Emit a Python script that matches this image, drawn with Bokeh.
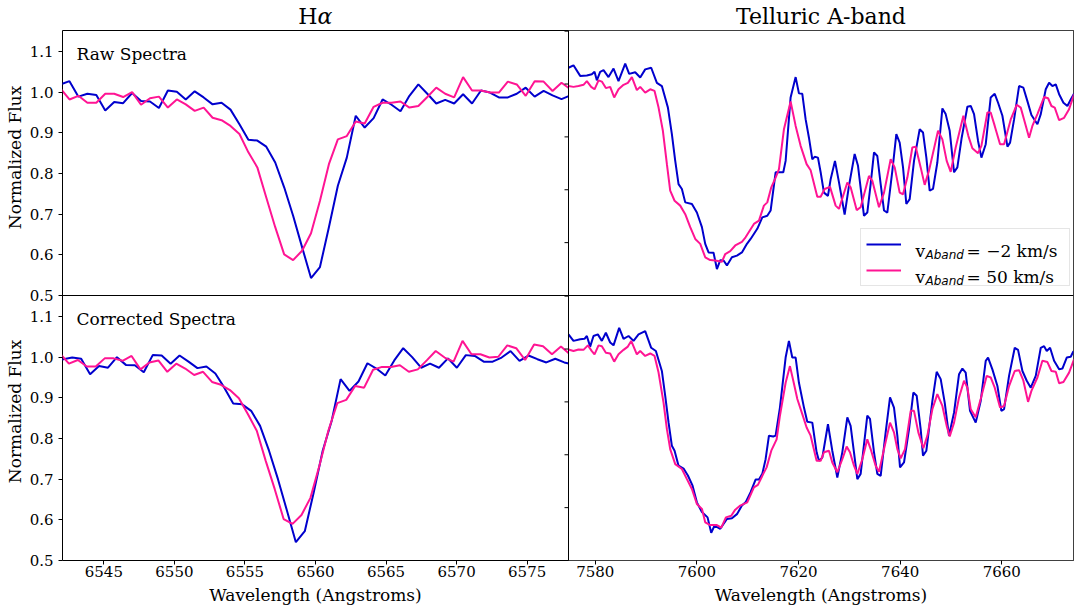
import numpy as np
from math import pi
from bokeh.plotting import figure
from bokeh.layouts import column, row
from bokeh.models import (Range1d, LinearAxis, FixedTicker, Label, Span,
                          Legend, LegendItem)
from bokeh.embed import file_html
from bokeh.resources import INLINE

BLUE = "#0000cd"
PINK = "#ff1493"
SERIF = "DejaVu Serif"

# ---------------- data ----------------
# H-alpha: uniform wavelength sampling (start, step) and fluxes
ha_step = 0.634
ha_raw_start = 6541.93
ha_raw_blue = [1.019, 1.027, 0.989, 0.996, 0.993, 0.955, 0.976, 0.973, 0.998, 0.978,
               0.977, 0.961, 1.004, 1.001, 0.982, 1.002, 0.987, 0.970, 0.974, 0.957,
               0.921, 0.883, 0.881, 0.866, 0.827, 0.766, 0.696, 0.619, 0.543, 0.570,
               0.668, 0.770, 0.839, 0.942, 0.913, 0.936, 0.982, 0.969, 0.953, 0.991,
               1.019, 0.996, 0.972, 0.981, 0.972, 0.995, 0.972, 1.004, 0.999, 0.987,
               0.987, 0.996, 1.011, 0.989, 1.003, 0.992, 0.983, 0.992]
ha_raw_pink = [1.009, 0.982, 0.991, 0.974, 0.974, 0.996, 0.996, 0.988, 1.000, 0.969,
               0.985, 0.989, 0.962, 0.982, 0.970, 0.954, 0.962, 0.937, 0.931, 0.917,
               0.897, 0.852, 0.815, 0.741, 0.668, 0.601, 0.587, 0.610, 0.653, 0.733,
               0.823, 0.884, 0.892, 0.928, 0.923, 0.964, 0.974, 0.974, 0.977, 0.962,
               0.966, 0.988, 1.011, 0.996, 0.987, 1.037, 1.004, 1.004, 0.999, 0.999,
               1.026, 1.019, 0.991, 1.027, 1.026, 1.003, 1.023, 1.007]
ha_cor_blue_start = 6541.49
ha_cor_blue = [0.987, 0.995, 0.999, 0.996, 0.958, 0.978, 0.974, 1.000, 0.981, 0.980,
               0.963, 1.005, 1.004, 0.984, 1.004, 0.989, 0.973, 0.977, 0.960, 0.925,
               0.886, 0.884, 0.868, 0.831, 0.770, 0.700, 0.623, 0.545, 0.572, 0.668,
               0.770, 0.843, 0.946, 0.917, 0.940, 0.985, 0.972, 0.955, 0.992, 1.022,
               1.000, 0.974, 0.984, 0.974, 0.997, 0.974, 1.005, 1.003, 0.989, 0.989,
               0.999, 1.015, 0.991, 1.004, 0.995, 0.987, 0.996, 0.987, 0.982]
ha_cor_pink_start = 6541.89
ha_cor_pink = [1.009, 0.984, 0.993, 0.977, 0.977, 0.997, 0.997, 0.991, 1.003, 0.970,
               0.987, 0.992, 0.964, 0.984, 0.972, 0.956, 0.964, 0.939, 0.932, 0.919,
               0.899, 0.860, 0.819, 0.745, 0.676, 0.602, 0.590, 0.612, 0.654, 0.733,
               0.819, 0.887, 0.895, 0.929, 0.925, 0.969, 0.976, 0.976, 0.980, 0.964,
               0.970, 0.992, 1.015, 0.999, 0.989, 1.040, 1.007, 1.007, 0.999, 1.001,
               1.029, 1.022, 0.993, 1.031, 1.027, 1.007, 1.026, 1.007]

# Telluric A-band: (wavelength, flux) vertices
ab_raw_blue = [
    (7574.74, 1.060), (7575.72, 1.066), (7577.04, 1.040), (7578.35, 1.041), (7579.33, 1.044),
    (7579.86, 1.050), (7580.32, 1.029), (7580.97, 1.050), (7581.63, 1.054), (7582.61, 1.037),
    (7583.60, 1.058), (7584.58, 1.027), (7585.90, 1.070), (7586.68, 1.045), (7587.86, 1.049),
    (7588.85, 1.036), (7589.83, 1.056), (7591.01, 1.060), (7592.13, 1.023), (7593.11, 1.015),
    (7594.30, 0.962), (7595.08, 0.897), (7595.74, 0.831), (7596.39, 0.774), (7597.05, 0.762),
    (7597.71, 0.729), (7599.02, 0.725), (7600.00, 0.704), (7600.99, 0.668), (7601.64, 0.627),
    (7602.30, 0.606), (7603.28, 0.605), (7603.94, 0.565), (7604.60, 0.587), (7605.25, 0.586),
    (7605.91, 0.574), (7606.89, 0.594), (7607.88, 0.598), (7608.86, 0.606), (7609.85, 0.627),
    (7610.57, 0.639), (7611.88, 0.664), (7612.87, 0.692), (7613.85, 0.696), (7614.51, 0.709),
    (7615.49, 0.803), (7617.00, 0.803), (7617.46, 0.831), (7618.44, 0.987), (7619.43, 1.037),
    (7620.08, 0.997), (7620.74, 0.996), (7621.40, 0.933), (7622.05, 0.888), (7622.71, 0.835),
    (7623.17, 0.841), (7623.82, 0.839), (7624.35, 0.803), (7625.00, 0.753), (7625.79, 0.745),
    (7626.32, 0.786), (7627.17, 0.831), (7627.96, 0.778), (7629.07, 0.699), (7629.93, 0.770),
    (7631.04, 0.848), (7631.70, 0.819), (7632.88, 0.696), (7633.53, 0.704), (7634.19, 0.774),
    (7634.85, 0.852), (7635.50, 0.843), (7636.16, 0.774), (7636.82, 0.709), (7637.47, 0.704),
    (7638.46, 0.807), (7639.24, 0.897), (7639.90, 0.876), (7640.56, 0.815), (7641.21, 0.725),
    (7641.87, 0.737), (7642.72, 0.831), (7643.84, 0.909), (7644.49, 0.901), (7645.15, 0.839),
    (7645.80, 0.758), (7646.46, 0.762), (7647.31, 0.827), (7648.30, 0.960), (7648.95, 0.946),
    (7649.74, 0.905), (7650.60, 0.803), (7651.25, 0.815), (7652.10, 0.888), (7653.22, 0.964),
    (7653.88, 0.966), (7654.53, 0.946), (7655.32, 0.880), (7655.98, 0.839), (7656.83, 0.872),
    (7657.81, 0.987), (7658.60, 0.996), (7659.26, 0.974), (7660.11, 0.942), (7661.10, 0.866),
    (7661.62, 0.876), (7662.41, 0.933), (7663.39, 1.015), (7664.24, 1.011), (7665.03, 0.978),
    (7665.82, 0.944), (7667.00, 0.921), (7667.66, 0.946), (7668.64, 1.007), (7669.30, 1.023),
    (7669.95, 1.015), (7670.61, 1.019), (7671.27, 0.995), (7672.12, 0.974), (7672.90, 0.966),
    (7673.56, 0.982), (7674.22, 0.997)]
ab_raw_pink = [
    (7574.74, 1.015), (7575.72, 1.013), (7576.71, 1.015), (7577.69, 1.018), (7578.35, 1.027),
    (7579.20, 1.013), (7579.86, 1.007), (7580.65, 1.029), (7581.30, 1.026), (7582.09, 1.010),
    (7582.94, 1.013), (7583.73, 0.987), (7584.58, 1.007), (7585.57, 1.018), (7586.42, 1.023),
    (7587.21, 1.037), (7588.19, 1.005), (7588.85, 1.013), (7589.83, 0.999), (7590.82, 1.007),
    (7591.67, 1.003), (7592.46, 0.962), (7593.31, 0.905), (7594.10, 0.823), (7594.75, 0.758),
    (7595.61, 0.733), (7596.72, 0.721), (7597.71, 0.700), (7598.69, 0.668), (7599.68, 0.639),
    (7600.66, 0.627), (7601.64, 0.594), (7602.63, 0.587), (7603.61, 0.586), (7604.92, 0.583),
    (7605.58, 0.602), (7606.56, 0.609), (7607.55, 0.623), (7608.86, 0.632), (7609.58, 0.643),
    (7611.22, 0.676), (7612.21, 0.684), (7613.19, 0.721), (7613.85, 0.729), (7614.64, 0.766),
    (7615.49, 0.790), (7616.15, 0.811), (7617.13, 0.909), (7618.44, 0.977), (7619.43, 0.917),
    (7620.41, 0.868), (7621.59, 0.823), (7622.38, 0.808), (7623.69, 0.743), (7624.35, 0.743),
    (7625.14, 0.762), (7626.19, 0.767), (7627.30, 0.721), (7627.96, 0.713), (7629.60, 0.778),
    (7630.25, 0.766), (7631.44, 0.710), (7632.22, 0.717), (7633.86, 0.794), (7634.52, 0.782),
    (7635.83, 0.717), (7636.82, 0.753), (7638.13, 0.835), (7638.92, 0.815), (7639.90, 0.753),
    (7640.56, 0.749), (7641.41, 0.790), (7642.39, 0.864), (7643.05, 0.866), (7644.03, 0.815),
    (7644.82, 0.772), (7645.67, 0.807), (7647.45, 0.905), (7648.30, 0.884), (7649.15, 0.831),
    (7649.94, 0.804), (7650.92, 0.864), (7652.43, 0.942), (7653.42, 0.892), (7654.20, 0.862),
    (7655.32, 0.850), (7655.98, 0.868), (7657.16, 0.950), (7657.81, 0.950), (7658.60, 0.917),
    (7659.65, 0.872), (7660.44, 0.872), (7661.75, 0.933), (7662.93, 0.969), (7663.72, 0.962),
    (7664.37, 0.933), (7665.36, 0.888), (7666.01, 0.917), (7667.00, 0.946), (7668.31, 0.988),
    (7669.10, 0.985), (7669.76, 0.966), (7670.41, 0.962), (7671.27, 0.931), (7672.25, 0.937),
    (7673.23, 0.958), (7674.22, 0.995)]
ab_cor_blue = [
    (7574.74, 1.056), (7575.72, 1.040), (7577.04, 1.044), (7577.89, 1.045), (7578.35, 1.052),
    (7579.00, 1.026), (7579.66, 1.052), (7580.51, 1.056), (7581.30, 1.040), (7582.09, 1.060),
    (7582.94, 1.036), (7583.60, 1.029), (7584.71, 1.072), (7585.57, 1.045), (7586.55, 1.052),
    (7587.54, 1.040), (7588.52, 1.056), (7589.83, 1.064), (7591.01, 1.023), (7591.93, 1.015),
    (7593.11, 0.966), (7593.77, 0.905), (7594.43, 0.839), (7595.08, 0.782), (7595.61, 0.770),
    (7596.39, 0.733), (7597.38, 0.726), (7598.23, 0.709), (7599.15, 0.684), (7600.00, 0.643),
    (7600.99, 0.619), (7602.10, 0.606), (7602.82, 0.568), (7603.48, 0.586), (7604.60, 0.578),
    (7605.91, 0.602), (7606.89, 0.604), (7607.88, 0.614), (7608.86, 0.635), (7609.58, 0.643),
    (7610.57, 0.668), (7611.55, 0.699), (7612.21, 0.699), (7612.87, 0.713), (7613.52, 0.749),
    (7614.18, 0.807), (7615.03, 0.805), (7615.49, 0.807), (7616.34, 0.876), (7617.46, 0.999),
    (7618.11, 1.040), (7618.77, 0.999), (7619.43, 0.999), (7620.08, 0.937), (7621.07, 0.876),
    (7621.72, 0.841), (7622.71, 0.839), (7623.56, 0.766), (7624.02, 0.745), (7624.68, 0.753),
    (7625.79, 0.835), (7626.64, 0.770), (7627.63, 0.704), (7628.61, 0.766), (7629.60, 0.852),
    (7630.25, 0.831), (7630.91, 0.766), (7631.57, 0.700), (7632.22, 0.713), (7633.53, 0.856),
    (7634.06, 0.848), (7634.85, 0.766), (7635.50, 0.713), (7636.16, 0.708), (7637.14, 0.815),
    (7638.00, 0.901), (7638.78, 0.876), (7639.44, 0.807), (7639.97, 0.729), (7640.75, 0.741),
    (7641.74, 0.823), (7642.59, 0.913), (7643.25, 0.905), (7644.03, 0.823), (7644.49, 0.758),
    (7645.15, 0.770), (7646.33, 0.892), (7647.18, 0.964), (7647.97, 0.946), (7648.76, 0.888),
    (7649.60, 0.807), (7650.60, 0.864), (7651.58, 0.958), (7652.24, 0.972), (7652.89, 0.962),
    (7653.74, 0.868), (7654.86, 0.839), (7655.84, 0.892), (7656.83, 0.991), (7657.29, 0.999),
    (7658.14, 0.970), (7659.13, 0.929), (7659.91, 0.868), (7660.44, 0.872), (7661.42, 0.954),
    (7662.54, 1.023), (7663.19, 1.018), (7664.05, 0.966), (7664.90, 0.942), (7665.69, 0.925),
    (7666.67, 0.954), (7667.66, 1.023), (7668.31, 1.027), (7668.84, 1.015), (7669.49, 1.023),
    (7670.28, 0.991), (7671.27, 0.970), (7671.92, 0.972), (7672.77, 0.999), (7673.56, 1.001),
    (7674.09, 1.015)]
ab_cor_pink = [
    (7574.74, 1.019), (7575.72, 1.015), (7576.71, 1.019), (7577.69, 1.018), (7578.55, 1.029),
    (7579.33, 1.015), (7579.86, 1.007), (7580.65, 1.029), (7581.30, 1.027), (7582.09, 1.011),
    (7582.94, 1.009), (7583.73, 0.989), (7584.58, 1.007), (7585.57, 1.018), (7586.42, 1.026),
    (7587.08, 1.040), (7588.19, 1.007), (7588.85, 1.015), (7589.83, 1.003), (7590.82, 1.009),
    (7591.67, 1.003), (7592.46, 0.962), (7593.44, 0.888), (7594.10, 0.823), (7594.75, 0.774),
    (7595.74, 0.737), (7597.05, 0.725), (7598.04, 0.700), (7599.02, 0.676), (7600.00, 0.639),
    (7600.99, 0.627), (7601.64, 0.594), (7602.63, 0.587), (7603.94, 0.587), (7604.80, 0.581),
    (7605.71, 0.606), (7606.76, 0.610), (7607.55, 0.625), (7608.53, 0.635), (7609.91, 0.643),
    (7611.22, 0.680), (7612.01, 0.686), (7613.06, 0.713), (7613.72, 0.729), (7614.64, 0.770),
    (7615.69, 0.798), (7616.34, 0.856), (7617.46, 0.937), (7618.31, 0.978), (7618.97, 0.942),
    (7619.76, 0.897), (7620.74, 0.860), (7621.59, 0.827), (7622.38, 0.807), (7623.56, 0.745),
    (7624.35, 0.745), (7625.00, 0.766), (7625.99, 0.770), (7626.64, 0.741), (7627.63, 0.717),
    (7628.61, 0.749), (7629.47, 0.780), (7630.12, 0.766), (7630.91, 0.733), (7631.57, 0.713),
    (7632.55, 0.749), (7633.53, 0.798), (7634.19, 0.774), (7635.17, 0.733), (7635.83, 0.718),
    (7636.82, 0.774), (7638.00, 0.839), (7638.78, 0.815), (7639.44, 0.774), (7640.10, 0.751),
    (7640.95, 0.774), (7642.07, 0.868), (7642.72, 0.868), (7643.57, 0.815), (7644.56, 0.776),
    (7645.35, 0.807), (7646.33, 0.872), (7647.31, 0.909), (7648.30, 0.880), (7649.15, 0.831),
    (7649.74, 0.805), (7650.60, 0.839), (7651.58, 0.901), (7652.56, 0.942), (7653.22, 0.925),
    (7653.88, 0.872), (7654.86, 0.852), (7655.84, 0.897), (7657.03, 0.954), (7657.81, 0.950),
    (7658.60, 0.925), (7659.65, 0.876), (7660.44, 0.880), (7661.42, 0.929), (7662.54, 0.966),
    (7663.39, 0.968), (7664.24, 0.942), (7665.16, 0.890), (7665.82, 0.917), (7667.00, 0.950),
    (7667.98, 0.991), (7668.97, 0.988), (7669.76, 0.966), (7670.61, 0.964), (7671.27, 0.936),
    (7672.12, 0.939), (7673.23, 0.962), (7674.22, 0.995)]

ha_ticks = [6545, 6550, 6555, 6560, 6565, 6570, 6575]
ab_ticks = [7580, 7600, 7620, 7640, 7660]
y_ticks = [0.5, 0.6, 0.7, 0.8, 0.9, 1.0, 1.1]
ab_y_ticks = [0.5, 0.63, 0.76, 0.89, 1.02, 1.15]   # unlabeled ticks of the A-band panels

legend_labels = [("v", "Aband", "= \u22122 km/s"), ("v", "Aband", "= 50 km/s")]

# ---------------- layout ----------------
TOTAL_W, TOTAL_H = 1074, 607
HEAD_H = 30          # title strip
YLAB_W = 24          # strip with the rotated y labels
LEFT_B = 38          # main figure left border (tick labels)
BOT_B = 23           # main figure bottom border (tick labels)
W_L, W_R = 506, 505  # panel widths
H_T = 265            # panel height
FRAME_W = W_L + W_R
FRAME_H = 2 * H_T
MAIN_W = LEFT_B + FRAME_W + 1
MAIN_H = FRAME_H + BOT_B
FOOT_H = TOTAL_H - HEAD_H - MAIN_H

HA_LIM = (6542.07, 6577.93)
AB_LIM = (7574.74, 7674.10)
Y_LIM = (0.5, 1.1516)

ha_span = (HA_LIM[1] - HA_LIM[0]) * FRAME_W / W_L
ab_span = (AB_LIM[1] - AB_LIM[0]) * FRAME_W / W_R
y_span = (Y_LIM[1] - Y_LIM[0]) * FRAME_H / H_T
x_ha = Range1d(HA_LIM[0], HA_LIM[0] + ha_span)
x_ab = Range1d(AB_LIM[1] - ab_span, AB_LIM[1])
y_top = Range1d(Y_LIM[1] - y_span, Y_LIM[1])
y_bot = Range1d(Y_LIM[0], Y_LIM[0] + y_span)

p = figure(width=MAIN_W, height=MAIN_H, x_range=x_ha, y_range=y_top,
           output_backend="svg", toolbar_location=None,
           x_axis_type=None, y_axis_type=None,
           min_border_left=LEFT_B, min_border_right=1, min_border_top=0,
           min_border_bottom=BOT_B)
p.extra_x_ranges = {"ab": x_ab}
p.extra_y_ranges = {"bot": y_bot}
p.outline_line_color = "black"
p.outline_line_width = 1
p.background_fill_color = "white"
p.border_fill_color = "white"


def grid(start, n):
    return [round(start + ha_step * i, 3) for i in range(n)]


LW = 2
p.line(grid(ha_raw_start, len(ha_raw_blue)), ha_raw_blue, color=BLUE, line_width=LW)
p.line(grid(ha_raw_start, len(ha_raw_pink)), ha_raw_pink, color=PINK, line_width=LW)
p.line(grid(ha_cor_blue_start, len(ha_cor_blue)), ha_cor_blue, color=BLUE, line_width=LW,
       y_range_name="bot")
p.line(grid(ha_cor_pink_start, len(ha_cor_pink)), ha_cor_pink, color=PINK, line_width=LW,
       y_range_name="bot")

# white mask so that H-alpha lines end at the column boundary
p.quad(left=[HA_LIM[1]], right=[x_ha.end], bottom=[y_top.start], top=[y_top.end],
       fill_color="white", line_color=None)

r_blue = p.line([w for w, f in ab_raw_blue], [f for w, f in ab_raw_blue], color=BLUE,
                line_width=LW, x_range_name="ab")
r_pink = p.line([w for w, f in ab_raw_pink], [f for w, f in ab_raw_pink], color=PINK,
                line_width=LW, x_range_name="ab")
p.line([w for w, f in ab_cor_blue], [f for w, f in ab_cor_blue], color=BLUE,
       line_width=LW, x_range_name="ab", y_range_name="bot")
p.line([w for w, f in ab_cor_pink], [f for w, f in ab_cor_pink], color=PINK,
       line_width=LW, x_range_name="ab", y_range_name="bot")

# panel separators
p.add_layout(Span(location=HA_LIM[1], dimension="height", line_color="black", line_width=1))
p.add_layout(Span(location=Y_LIM[0], dimension="width", line_color="black", line_width=1))

# ticks of the A-band panels' own y axes (pointing outward, into the left panels)
tick_len = 4 * ha_span / FRAME_W
n = len(ab_y_ticks)
p.segment(x0=[HA_LIM[1] - tick_len] * n, x1=[HA_LIM[1]] * n, y0=ab_y_ticks, y1=ab_y_ticks,
          line_color="black", line_width=1)
p.segment(x0=[HA_LIM[1] - tick_len] * n, x1=[HA_LIM[1]] * n, y0=ab_y_ticks, y1=ab_y_ticks,
          line_color="black", line_width=1, y_range_name="bot")

# left axis (both rows)
yoff = y_top.start - y_bot.start
ypos, ylab = [], {}
for v in y_ticks:
    ypos.append(v)
    ylab[v] = "%.1f" % v
for v in y_ticks:
    c = v + yoff
    ypos.append(c)
    ylab[c] = "%.1f" % v
yax = LinearAxis(ticker=FixedTicker(ticks=ypos, minor_ticks=[]), major_label_overrides=ylab)
# bottom axis (both columns)
xscale = ha_span / ab_span
xpos, xlab = [], {}
for v in ha_ticks:
    xpos.append(v)
    xlab[v] = str(v)
for v in ab_ticks:
    c = x_ha.start + (v - x_ab.start) * xscale
    xpos.append(c)
    xlab[c] = str(v)
xax = LinearAxis(ticker=FixedTicker(ticks=xpos, minor_ticks=[]), major_label_overrides=xlab)
for ax in (yax, xax):
    ax.axis_line_color = None
    ax.major_tick_out = 4
    ax.major_tick_in = 0
    ax.minor_tick_out = 0
    ax.minor_tick_in = 0
    ax.major_tick_line_color = "black"
    ax.major_label_text_font = SERIF
    ax.major_label_text_font_size = "15px"
    ax.major_label_text_color = "black"
yax.major_label_standoff = 5
xax.major_label_standoff = 1
p.add_layout(yax, "left")
p.add_layout(xax, "below")


def lab(fig, text, x, y, size="17px", xr="default", yr="default", **kw):
    fig.add_layout(Label(x=x, y=y, text=text, text_font=SERIF, text_font_size=size,
                         text_color="black", x_range_name=xr, y_range_name=yr, **kw))


# panel annotations
lab(p, "Raw Spectra", HA_LIM[0], Y_LIM[1], x_offset=14, y_offset=-23,
    text_align="left", text_baseline="middle")
lab(p, "Corrected Spectra", HA_LIM[0], Y_LIM[1], yr="bot", x_offset=14, y_offset=-23,
    text_align="left", text_baseline="middle")

# legend (box + swatches) with math-like labels drawn on top
LEG_W, LEG_H = 208, 56
leg = Legend(items=[LegendItem(label=" ", renderers=[r_blue]),
                    LegendItem(label=" ", renderers=[r_pink])],
             location=(FRAME_W - 5 - LEG_W, H_T + 9),
             padding=5, spacing=6, glyph_width=35, glyph_height=20,
             label_height=20, label_width=153, label_standoff=10, margin=0,
             border_line_color="#cccccc", border_line_width=1,
             background_fill_color="white", background_fill_alpha=0.0,
             label_text_font_size="10px")
p.add_layout(leg)
for i, (v, sub, rest) in enumerate(legend_labels):
    base = 45 - 26 * i
    lab(p, v, AB_LIM[1], Y_LIM[0], xr="ab", x_offset=-158, y_offset=base,
        text_align="left", text_baseline="alphabetic")
    p.add_layout(Label(x=AB_LIM[1], y=Y_LIM[0], x_range_name="ab", text=sub,
                       x_offset=-148, y_offset=base - 4, text_font="DejaVu Sans",
                       text_font_style="italic", text_font_size="12px", text_color="black",
                       text_align="left", text_baseline="alphabetic"))
    lab(p, rest, AB_LIM[1], Y_LIM[0], xr="ab", x_offset=-107, y_offset=base,
        text_align="left", text_baseline="alphabetic")


# ---------- text strips around the main figure ----------
def strip(w, h):
    f = figure(width=w, height=h, x_range=Range1d(0, w), y_range=Range1d(0, h),
               output_backend="svg", toolbar_location=None, x_axis_type=None,
               y_axis_type=None, min_border=0)
    f.outline_line_color = None
    f.background_fill_color = "white"
    f.border_fill_color = "white"
    return f


left_c = YLAB_W + LEFT_B + W_L / 2
right_c = YLAB_W + LEFT_B + W_L + W_R / 2

head = strip(TOTAL_W, HEAD_H)
lab(head, "H", left_c, 14, size="22px", x_offset=2, text_align="right",
    text_baseline="middle")
lab(head, "\u03b1", left_c, 14, size="22px", x_offset=2, text_align="left",
    text_baseline="middle", text_font_style="italic")
lab(head, "Telluric A-band", right_c, 14, size="22px", text_align="center",
    text_baseline="middle")

yl = strip(YLAB_W, MAIN_H)
for yc in (BOT_B + H_T + H_T / 2, BOT_B + H_T / 2):
    lab(yl, "Normalized Flux", 14, yc, angle=pi / 2, text_align="center",
        text_baseline="middle")

foot = strip(TOTAL_W, FOOT_H)
for xc in (left_c, right_c):
    lab(foot, "Wavelength (Angstroms)", xc, FOOT_H - 11, text_align="center",
        text_baseline="middle")

layout = column(head, row(yl, p, spacing=0), foot, spacing=0)
open("out.html", "w").write(file_html(layout, INLINE))
